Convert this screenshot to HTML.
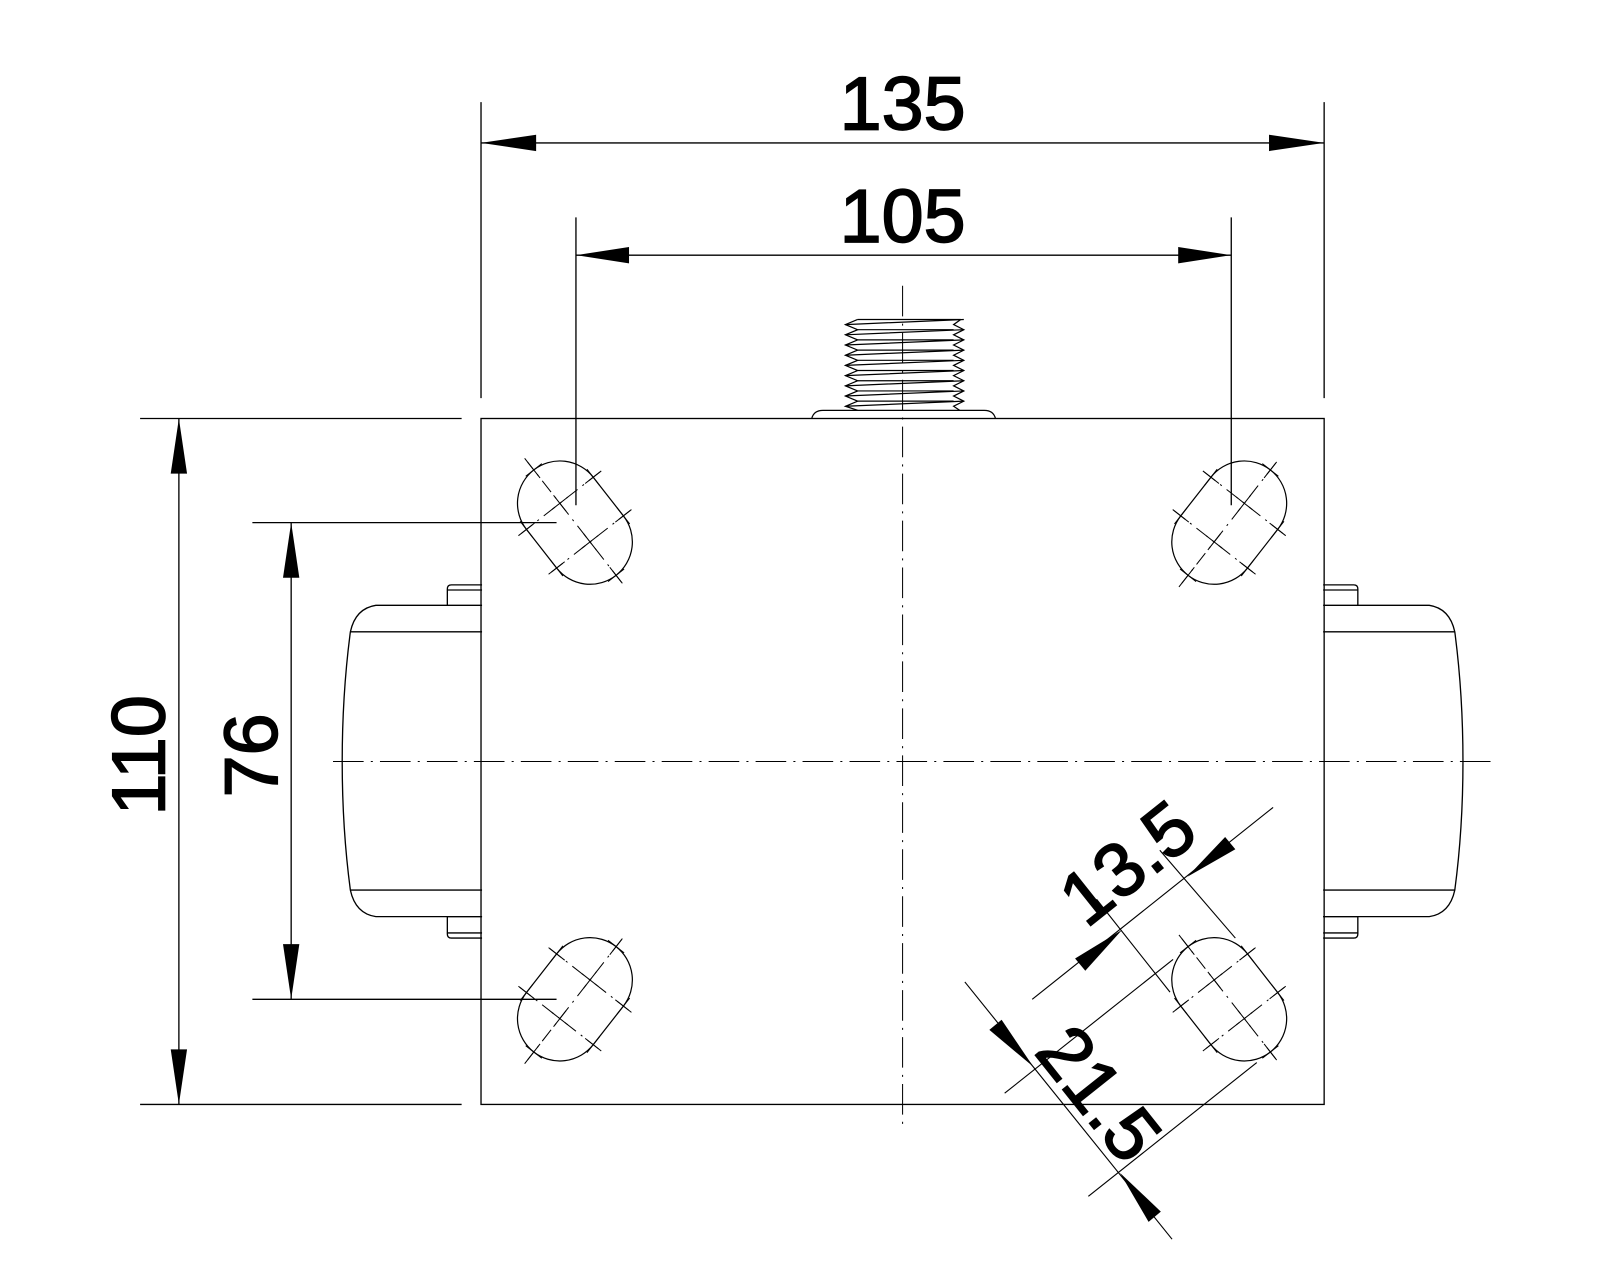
<!DOCTYPE html>
<html><head><meta charset="utf-8"><style>
html,body{margin:0;padding:0;background:#fff;}
svg{display:block;}
text{font-family:"Liberation Sans",sans-serif;fill:#000;stroke:#000;stroke-width:1.6;}
</style></head><body>
<svg width="1600" height="1280" viewBox="0 0 1567 1254" xmlns="http://www.w3.org/2000/svg">
<defs>
<g id="slot">
  <rect x="-65.5" y="-41.5" width="131" height="83" rx="41.5" ry="41.5" fill="none" stroke="#000" stroke-width="1.2"/>
  <line x1="-80" y1="0" x2="80" y2="0" stroke="#000" stroke-width="1" stroke-dasharray="14,6,2,6"/>
  <line x1="-24" y1="-50" x2="-24" y2="50" stroke="#000" stroke-width="1" stroke-dasharray="14,6,2,6"/>
  <line x1="24" y1="-50" x2="24" y2="50" stroke="#000" stroke-width="1" stroke-dasharray="14,6,2,6"/>
  <g stroke="#000" stroke-width="1">
    <path d="M-34 0h20M-24 -10v20M14 0h20M24 -10v20"/>
    <path d="M-34 -41.5h20M-24 -51.5v20M14 -41.5h20M24 -51.5v20"/>
    <path d="M-34 41.5h20M-24 31.5v20M14 41.5h20M24 31.5v20"/>
    <path d="M-75.5 0h20M-65.5 -10v20M55.5 0h20M65.5 -10v20"/>
  </g>
</g>
<g id="handle" fill="none" stroke="#000" stroke-width="1.3">
  <path d="M1296 573 H1326 Q1330 573 1330 577 V593"/>
  <line x1="1296" y1="578" x2="1330" y2="578"/>
  <path d="M1296 593 H1400 Q1420 596 1425 619 Q1433 680 1433 746 Q1433 812 1425 872 Q1420 895 1400 898 H1296"/>
  <line x1="1296" y1="619" x2="1425" y2="619"/>
  <line x1="1296" y1="872" x2="1425" y2="872"/>
  <path d="M1296 898 H1330 V915 Q1330 919 1326 919 H1296"/>
  <line x1="1296" y1="914" x2="1330" y2="914"/>
</g>
</defs>

<g stroke="#000" stroke-width="1.3" fill="none">
  <rect x="471" y="410" width="826" height="672"/>
  <line x1="471" y1="100" x2="471" y2="390"/>
  <line x1="1297" y1="100" x2="1297" y2="390"/>
  <line x1="564" y1="213" x2="564" y2="495"/>
  <line x1="1206" y1="213" x2="1206" y2="495"/>
  <line x1="137" y1="410" x2="452" y2="410"/>
  <line x1="137" y1="1082" x2="452" y2="1082"/>
  <line x1="247" y1="512" x2="545" y2="512"/>
  <line x1="247" y1="979" x2="545" y2="979"/>
  <line x1="471" y1="140" x2="1297" y2="140"/>
  <line x1="564" y1="250" x2="1206" y2="250"/>
  <line x1="175" y1="410" x2="175" y2="1082"/>
  <line x1="285" y1="512" x2="285" y2="979"/>
</g>
<g fill="#000">
  <polygon points="471,140 525,132 525,148"/>
  <polygon points="1297,140 1243,132 1243,148"/>
  <polygon points="564,250 616,242 616,258"/>
  <polygon points="1206,250 1154,242 1154,258"/>
  <polygon points="175,410 167,464 183,464"/>
  <polygon points="175,1082 167,1028 183,1028"/>
  <polygon points="285,512 277,566 293,566"/>
  <polygon points="285,979 277,925 293,925"/>
</g>
<text x="884" y="127" font-size="74" text-anchor="middle">135</text>
<text x="884" y="237" font-size="74" text-anchor="middle">105</text>
<text x="0" y="0" font-size="74" text-anchor="middle" transform="translate(161,740) rotate(-90)">110</text>
<text x="0" y="0" font-size="74" text-anchor="middle" transform="translate(271,740) rotate(-90)">76</text>

<g stroke="#000" stroke-width="1" stroke-dasharray="30,7,2,7">
  <line x1="884" y1="280" x2="884" y2="1102"/>
  <line x1="326" y1="746" x2="1462" y2="746"/>
</g>

<use href="#handle"/>
<use href="#handle" transform="translate(1768,0) scale(-1,1)"/>

<g stroke="#000" stroke-width="1.2" fill="none">
  <path d="M795 410 Q797 402 806 402 H964 Q973 402 975 410"/>
  <path d="M840 313 L828 318 L840 323 L828 328 L840 333 L828 338 L840 343 L828 348 L840 353 L828 358 L840 363 L828 368 L840 373 L828 378 L840 383 L828 388 L840 393 L828 398 L840 402"/>
  <path d="M941 313 L934 318 L944 323 L934 328 L944 333 L934 338 L944 343 L934 348 L944 353 L934 358 L944 363 L934 368 L944 373 L934 378 L944 383 L934 388 L944 393 L934 398 L940 402"/>
  <path d="M840 313 H941 M828 318 L944 313 M828 328 L944 323 M828 338 L944 333 M828 348 L944 343 M828 358 L944 353 M828 368 L944 363 M828 378 L944 373 M828 388 L944 383 M828 398 L944 393"/>
  <path d="M840 323 H934 M840 333 H934 M840 343 H934 M840 353 H934 M840 363 H934 M840 373 H934 M840 383 H934 M840 393 H934"/>
</g>

<use href="#slot" transform="translate(563,512) rotate(52)"/>
<use href="#slot" transform="translate(1204,512) rotate(-52)"/>
<use href="#slot" transform="translate(563,979) rotate(-52)"/>
<use href="#slot" transform="translate(1204,979) rotate(52)"/>

<g stroke="#000" stroke-width="1.1" fill="none">
  <line x1="1011" y1="979" x2="1247" y2="791"/>
  <line x1="1074" y1="881" x2="1146" y2="972"/>
  <line x1="1136" y1="833" x2="1210" y2="919"/>
  <line x1="945" y1="962" x2="1148" y2="1214"/>
  <line x1="984" y1="1071" x2="1149" y2="940"/>
  <line x1="1066" y1="1172" x2="1231" y2="1041"/>
</g>
<g fill="#000">
  <polygon points="1099,911 1053,939 1063,951"/>
  <polygon points="1163,859 1200,820 1210,832"/>
  <polygon points="1012,1045 969,1009 981,999"/>
  <polygon points="1097,1149 1125,1197 1137,1187"/>
</g>
<text x="0" y="0" font-size="74" text-anchor="middle" transform="translate(1104,845) rotate(-38.5) translate(0,26)">13.5</text>
<text x="0" y="0" font-size="74" text-anchor="middle" transform="translate(1077,1071) rotate(51.5) translate(0,26)">21.5</text>
</svg>
</body></html>
